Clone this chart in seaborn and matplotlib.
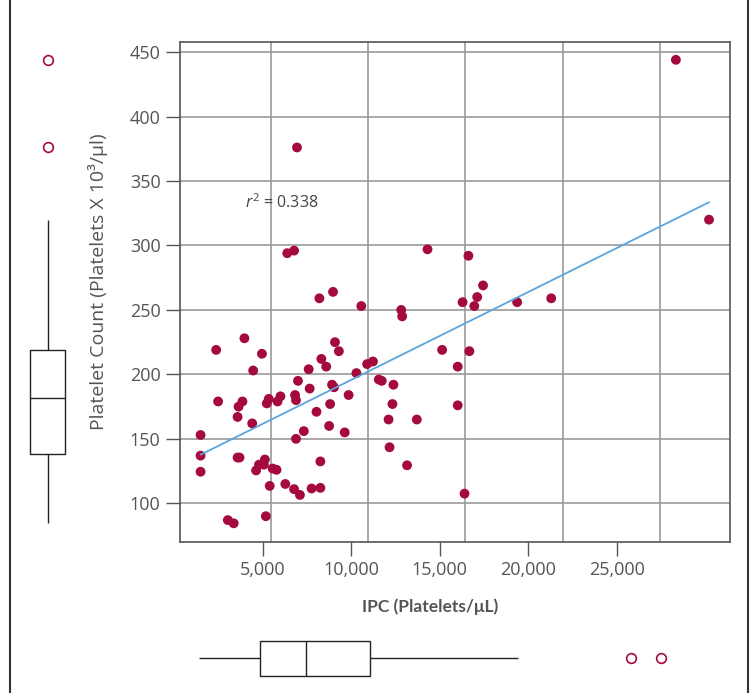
import pandas as pd
import seaborn as sns
import matplotlib.pyplot as plt
from matplotlib.lines import Line2D

# IPC (platelets/uL) vs platelet count (x10^3/ul)
ipc = [25800, 27500, 6350, 5850, 6200, 13050, 15150, 15900, 15600, 14850,
       15450, 17650, 19400, 7500, 8200, 9650, 11700, 11750, 3650, 2200,
       4550, 4100, 8300, 8500, 7600, 7850, 6950, 6400, 7000, 8150,
       8250, 9400, 9950, 10250, 10550, 10700, 11300, 13800, 15200, 14600,
       14600, 2300, 3550, 3350, 4900, 4800, 5500, 5350, 6250, 6300,
       3300, 4050, 7350, 8050, 9000, 11250, 11050, 12500, 8000, 6700,
       8800, 6300, 1400, 1400, 1400, 3300, 3400, 4700, 4400, 4650,
       4250, 5100, 5300, 7550, 11100, 12000, 14950, 4950, 5750, 6200,
       6500, 7100, 7550, 2800, 3100, 4750]
count = [444, 320, 376, 294, 296, 297, 292, 269, 260, 256,
         253, 256, 259, 259, 264, 253, 250, 245, 228, 219,
         216, 203, 225, 218, 212, 206, 204, 195, 189, 192,
         190, 201, 208, 210, 196, 195, 192, 219, 218, 206,
         176, 179, 179, 175, 181, 177.5, 183, 179, 184, 180,
         167, 162, 171, 177, 184, 177, 165, 165, 160, 156,
         155, 150, 153, 137, 124.5, 135.5, 135.5, 134, 130, 130,
         125.5, 127, 126, 132.5, 143.5, 129.5, 107.5, 113.5, 115, 111,
         106.5, 111.5, 112, 87, 84.5, 90]

x_ticks = [5000, 10000, 15000, 20000, 25000]
y_ticks = [100, 150, 200, 250, 300, 350, 400, 450]
r2_label = "$r^2$ = 0.338"

df = pd.DataFrame({"ipc": ipc, "count": count})

red = "#a50a3c"
blue = "#5aa5db"
grey = "#555555"

sns.set_style("white")
plt.rcParams["font.family"] = ["Open Sans", "DejaVu Sans"]
plt.rcParams["mathtext.fontset"] = "custom"
plt.rcParams["mathtext.it"] = "Open Sans:italic"
plt.rcParams["mathtext.rm"] = "Open Sans"

fig = plt.figure(figsize=(7.55, 6.93), dpi=100)
ax = fig.add_axes([180 / 755, 151 / 693, 550 / 755, 500 / 693])
ax_left = fig.add_axes([20 / 755, 151 / 693, 55 / 755, 500 / 693])
ax_bot = fig.add_axes([180 / 755, 7 / 693, 550 / 755, 56 / 693])

# scatter + fitted line
sns.regplot(data=df, x="ipc", y="count", ax=ax, ci=None,
            scatter_kws=dict(s=50, color=red, edgecolors="none", alpha=1, zorder=3),
            line_kws=dict(color=blue, lw=1.3, zorder=4))
ax.set_xlim(344, 28578)
ax.set_ylim(70, 457.8)
ax.set_xticks(x_ticks)
ax.set_yticks(y_ticks)
ax.grid(True, color="#999999", lw=1.2)
ax.set_axisbelow(True)
ax.tick_params(axis="x", length=0, labelbottom=False)
ax.tick_params(axis="y", length=10, width=1, color=grey, direction="out",
               labelsize=13, labelcolor=grey, pad=4, left=True)
for s in ax.spines.values():
    s.set_color(grey)
    s.set_linewidth(1.2)
ax.set_xlabel("")
ax.set_ylabel("Platelet Count (Platelets X 10³/μl)", fontsize=14, color=grey)
ax.yaxis.set_label_coords(-0.131, 0.521)
ax.text(3680, 333.5, r2_label, fontsize=11.5, color="#444444", va="center")

# bottom tick axis (labels as printed in the original figure)
ax2 = ax.twiny()
ax2.set_xlim(328, 31401)
ax2.set_xticks(x_ticks)
ax2.set_xticklabels([f"{t:,}" for t in x_ticks])
ax2.xaxis.set_ticks_position("bottom")
ax2.xaxis.set_label_position("bottom")
ax2.tick_params(axis="x", length=10, width=1, color=grey, direction="out",
                labelsize=13, labelcolor=grey, pad=4)
for s in ax2.spines.values():
    s.set_visible(False)
ax2.set_xlabel("IPC (Platelets/μL)", fontsize=12.5, color=grey, fontweight="bold",
               family=["Lato", "DejaVu Sans"])
ax2.xaxis.set_label_coords(0.4545, -0.112)

# marginal boxplots
box_kws = dict(color="white", linecolor="#222222", linewidth=1, showcaps=False,
               flierprops=dict(marker="o", markerfacecolor="none",
                               markeredgecolor=red, markersize=7, markeredgewidth=1.2))
sns.boxplot(y=count, ax=ax_left, width=0.64, **box_kws)
ax_left.set_ylim(70, 457.8)
ax_left.set_xlim(-0.5, 0.5)
ax_left.axis("off")

sns.boxplot(x=ipc, ax=ax_bot, width=0.625, **box_kws)
ax_bot.set_xlim(328, 31401)
ax_bot.set_ylim(0.5, -0.5)
ax_bot.axis("off")

# outer frame sides
for xf in (10 / 755, 748 / 755):
    fig.add_artist(Line2D([xf, xf], [0, 1], transform=fig.transFigure,
                          color="#333333", lw=1.5))

plt.savefig("out.png", dpi=100)
